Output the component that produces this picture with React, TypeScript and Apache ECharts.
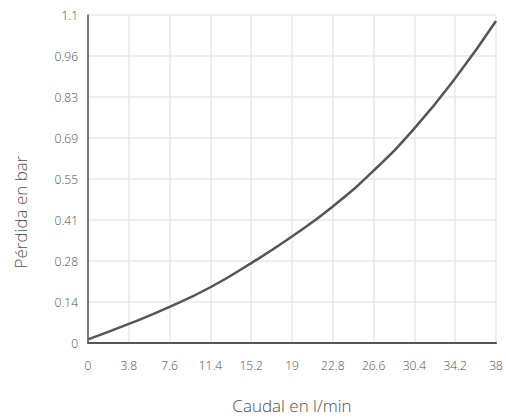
import React, { useEffect, useRef } from "react";
import * as echarts from "echarts";

const xValues = [0, 3.8, 7.6, 11.4, 15.2, 19, 22.8, 26.6, 30.4, 34.2, 38];
const yValues = [0.012, 0.064, 0.121, 0.187, 0.268, 0.357, 0.458, 0.578, 0.72, 0.888, 1.08];
const xAxisName = "Caudal en l/min";
const yAxisName = "Pérdida en bar";

const FONT = "'Open Sans', 'Noto Sans', sans-serif";
const TEXT = "#4d4d4d";

export default function App() {
  const ref = useRef<HTMLDivElement>(null);
  useEffect(() => {
    document.body.style.margin = "0";
    if (!ref.current) return;
    const chart = echarts.init(ref.current, undefined, { renderer: "svg" });
    chart.setOption({
      animation: false,
      grid: { left: 88, right: 10, top: 15, bottom: 77, containLabel: false },
      xAxis: {
        type: "value",
        min: 0,
        max: 38,
        interval: 3.8,
        name: xAxisName,
        nameLocation: "middle",
        nameGap: 54,
        nameTextStyle: { color: TEXT, fontSize: 17, fontFamily: FONT, fontWeight: 300 },
        axisLine: { show: true, lineStyle: { color: "#555", width: 2 } },
        axisTick: { show: false },
        axisLabel: {
          color: TEXT,
          fontSize: 12,
          fontFamily: FONT,
          fontWeight: 300,
          margin: 16,
          showMaxLabel: true,
          showMinLabel: true,
          hideOverlap: false,
          formatter: (v: number) => String(Math.round(v * 10) / 10),
        },
        splitLine: { show: true, lineStyle: { color: "#ebe9e6", width: 1.5 } },
      },
      yAxis: {
        type: "value",
        min: 0,
        max: 1.1,
        interval: 0.1375,
        axisLine: { show: true, lineStyle: { color: "#555", width: 1.5 } },
        axisTick: { show: false },
        axisLabel: {
          color: TEXT,
          fontSize: 12,
          fontFamily: FONT,
          fontWeight: 300,
          margin: 10,
          showMaxLabel: true,
          formatter: (v: number) => String(Math.round(v * 100) / 100),
        },
        splitLine: { show: true, lineStyle: { color: "#ebe9e6", width: 1.5 } },
      },
      graphic: [
        {
          type: "text",
          x: 20,
          y: 212,
          rotation: Math.PI / 2,
          style: {
            text: yAxisName,
            fill: TEXT,
            font: `300 17px ${FONT}`,
            align: "center",
            verticalAlign: "middle",
          },
        },
      ],
      series: [
        {
          type: "line",
          data: xValues.map((x, i) => [x, yValues[i]]),
          smooth: true,
          showSymbol: false,
          lineStyle: { color: "#555", width: 2.5 },
        },
      ],
    });
    return () => chart.dispose();
  }, []);
  return <div ref={ref} style={{ width: 506, height: 420 }} />;
}
